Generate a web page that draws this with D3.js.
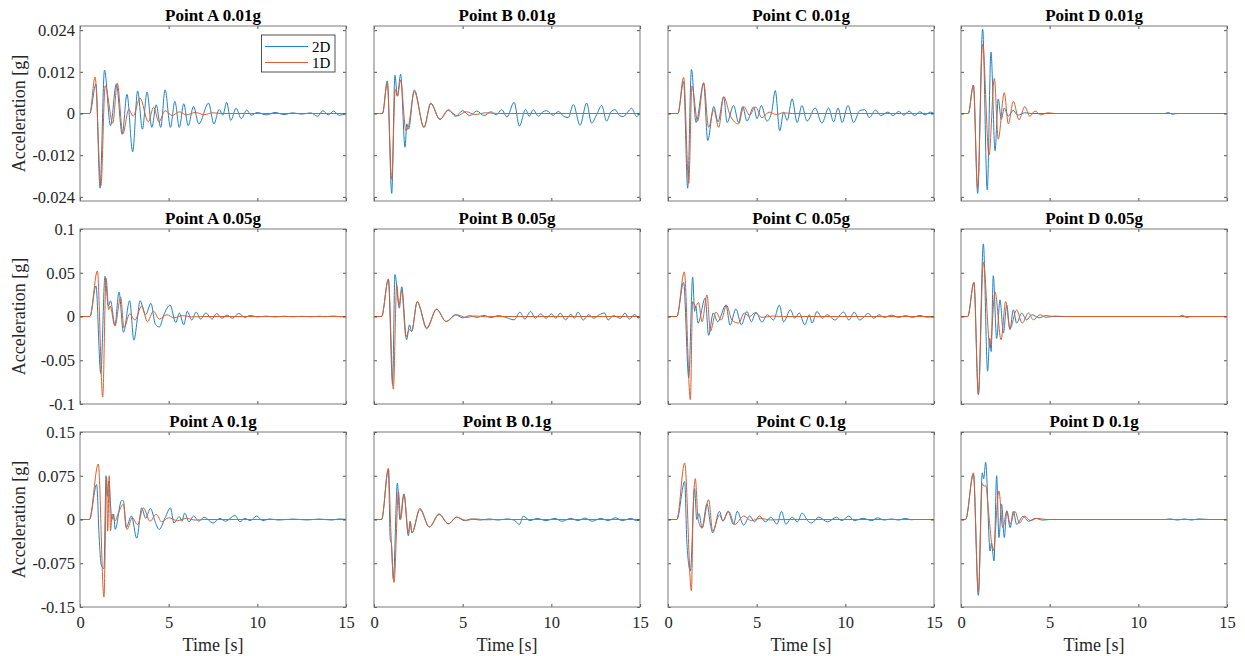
<!DOCTYPE html>
<html><head><meta charset="utf-8">
<script src="https://cdn.jsdelivr.net/npm/d3@7"></script>
<style>body{margin:0;background:#fff}svg{display:block}</style>
</head><body><svg id="c" width="1245" height="656"></svg>
<script>
// ---------- data (time [s], acceleration [g]) ----------
const A001_2D=[[0,0],[0.55,0],[0.9,0.0085],[1.13,-0.0215],[1.38,0.0125],[1.72,-0.0035],[2.05,0.0085],[2.38,-0.006],[2.65,0.0055],[2.97,-0.011],[3.25,0.0065],[3.52,-0.0045],[3.78,0.0062],[4.05,-0.004],[4.3,0.0025],[4.55,-0.004],[4.8,0.0068],[5.1,-0.004],[5.35,0.0035],[5.6,-0.004],[5.85,0.0028],[6.1,-0.0035],[6.4,0.002],[6.7,-0.003],[7.25,0.003],[7.55,-0.003],[7.85,0.0012],[8.05,-0.0005],[8.27,0.0032],[8.5,-0.002],[8.8,0.0015],[9.1,-0.0015],[9.4,0.001],[9.65,-0.0005],[10,0.0003],[10.5,-0.0004],[11,0.0003],[11.5,-0.0003],[12,0.0002],[12.5,-0.0002],[13,0.0002],[13.4,-0.0008],[13.7,0.0008],[14,-0.0004],[14.3,0.0007],[14.6,-0.0005],[15,0]];
const A001_1D=[[0,0],[0.55,0],[0.85,0.0105],[1.18,-0.0208],[1.42,0.008],[1.85,-0.0028],[2.1,0.0088],[2.42,-0.0058],[2.75,0.0012],[3.0,-0.0008],[3.38,0.0045],[3.85,-0.0024],[4.15,0.0018],[4.45,-0.0024],[4.8,0.0008],[5.2,-0.0006],[5.6,0.0005],[6.0,-0.0004],[6.5,0.0003],[7.0,-0.0003],[7.5,0.0002],[8,0],[15,0]];
const B001_2D=[[0,0],[0.48,0],[0.75,0.0094],[1.0,-0.023],[1.18,0.011],[1.32,0.005],[1.5,0.0113],[1.75,-0.0097],[1.85,-0.003],[1.95,-0.0045],[2.27,0.0068],[2.82,-0.004],[3.2,0.003],[3.72,-0.0017],[4.19,0.0011],[4.6,-0.0008],[5.0,0.0008],[5.4,-0.0006],[5.8,0.0007],[6.2,-0.0006],[6.6,0.0005],[6.9,-0.0004],[7.2,0.0011],[7.5,-0.001],[7.9,0.0032],[8.2,-0.0036],[8.55,0.0012],[8.75,-0.0008],[8.98,0.0011],[9.27,-0.0008],[9.5,0.0004],[9.74,0.0008],[10.1,-0.0005],[10.4,0.0006],[10.7,-0.0008],[10.95,-0.0012],[11.24,0.0026],[11.62,-0.0034],[11.99,0.003],[12.27,-0.0028],[12.55,-0.0004],[12.84,0.0023],[13.12,-0.0022],[13.35,0.0004],[13.59,0.0011],[13.85,-0.0006],[14.06,-0.0009],[14.3,0.0004],[14.53,0.0015],[14.81,-0.0009],[15,0.0002]];
const B001_1D=[[0,0],[0.48,0],[0.75,0.0087],[1.0,-0.019],[1.2,0.007],[1.32,0.005],[1.5,0.0096],[1.8,-0.005],[1.95,-0.0035],[2.27,0.0063],[2.82,-0.004],[3.2,0.0028],[3.72,-0.0017],[4.19,0.0009],[4.7,-0.0007],[5.2,0.0005],[5.7,-0.0003],[6.3,0.0002],[7,0],[15,0]];
const C001_2D=[[0,0],[0.56,0],[0.88,0.0092],[1.11,-0.0215],[1.32,0.0127],[1.58,-0.0026],[2.01,0.0087],[2.24,-0.0078],[2.58,0.002],[2.82,-0.0024],[3.14,0.0047],[3.33,-0.0026],[3.7,0.0023],[3.98,-0.0026],[4.21,0.002],[4.45,-0.0022],[4.83,0.0019],[5.02,-0.0015],[5.26,0.0023],[5.58,-0.0022],[5.85,0.0005],[6.05,0.0066],[6.3,-0.005],[6.52,0.0004],[6.72,-0.002],[7.0,0.0042],[7.28,-0.0026],[7.55,0.0023],[7.84,-0.0022],[8.3,0.0016],[8.68,-0.0028],[9.06,0.0016],[9.34,-0.0024],[9.59,0.0016],[9.82,-0.0026],[10.15,0.0023],[10.47,-0.0026],[10.8,0.0008],[11.1,0.0011],[11.35,-0.0012],[11.7,0.001],[12.0,-0.0006],[12.4,0.0004],[12.7,-0.0006],[13.0,0.0006],[13.3,-0.0005],[13.6,0.0007],[13.9,-0.0006],[14.2,0.0005],[14.5,-0.0004],[14.8,0.0004],[15,0]];
const C001_1D=[[0,0],[0.56,0],[0.88,0.0104],[1.17,-0.0201],[1.35,0.0079],[1.67,-0.0022],[2.01,0.0089],[2.29,-0.004],[2.58,0.0011],[2.86,-0.004],[3.14,0.0049],[3.5,-0.0005],[3.98,-0.003],[4.27,0.002],[4.6,-0.0005],[4.93,0.0019],[5.3,-0.0012],[5.7,0.0004],[6.1,-0.0003],[6.5,0.0002],[7,0],[15,0]];
const D001_2D=[[0,0],[0.41,0],[0.7,0.0082],[0.94,-0.023],[1.22,0.0243],[1.48,-0.022],[1.69,0.0177],[1.92,-0.0107],[2.1,0.0042],[2.27,-0.0017],[2.44,0.0016],[2.66,-0.0008],[2.95,0.0009],[3.2,-0.0005],[3.6,0.0002],[4,0],[11.5,0],[11.7,0.0003],[11.9,-0.0002],[12.2,0],[15,0]];
const D001_1D=[[0,0],[0.41,0],[0.7,0.0082],[0.94,-0.0215],[1.22,0.02],[1.58,-0.012],[1.88,0.0101],[2.1,-0.0074],[2.44,0.006],[2.67,-0.003],[2.95,0.0035],[3.27,-0.0018],[3.6,0.002],[3.88,-0.0008],[4.17,0.0007],[4.5,-0.0004],[4.9,0.0002],[5.3,0],[15,0]];

const A005_2D=[[0,0],[0.56,0],[0.9,0.035],[1.17,-0.065],[1.41,0.046],[1.6,0.012],[1.72,0.018],[1.97,-0.0096],[2.2,0.028],[2.45,-0.018],[2.8,0.018],[3.04,-0.027],[3.25,0.0],[3.38,0.018],[3.7,0.002],[4.0,0.015],[4.25,-0.009],[4.47,-0.012],[4.75,0.003],[5.08,0.013],[5.4,-0.007],[5.6,0.004],[5.85,-0.0096],[6.05,0.006],[6.3,-0.004],[6.55,0.005],[6.8,-0.003],[7.1,0.004],[7.45,-0.003],[7.7,0.0035],[8.0,-0.002],[8.3,0.0015],[8.6,-0.002],[8.95,0.0035],[9.3,-0.001],[9.6,0.0012],[10,-0.0005],[10.5,0.0004],[11,-0.0005],[11.5,0.0003],[12,-0.0003],[12.5,0.0002],[13,-0.0003],[13.5,0.0003],[13.8,-0.0002],[14.3,0.0005],[14.7,-0.0003],[15,0]];
const A005_1D=[[0,0],[0.56,0],[0.98,0.052],[1.28,-0.092],[1.47,0.044],[1.62,0.008],[1.7,0.012],[1.97,-0.011],[2.29,0.022],[2.48,-0.013],[2.8,0.003],[3.1,-0.004],[3.48,0.012],[3.8,-0.006],[4.14,0.006],[4.47,-0.003],[4.9,0.002],[5.3,-0.0015],[5.8,0.001],[6.3,-0.0005],[7,0],[15,0]];
const B005_2D=[[0,0],[0.43,0],[0.81,0.042],[1.05,-0.078],[1.18,0.048],[1.43,0.0095],[1.56,0.034],[1.84,-0.0265],[2.0,-0.0095],[2.12,-0.017],[2.44,0.017],[2.6,0.01],[2.97,-0.013],[3.53,0.0083],[4.06,-0.0057],[4.6,0.002],[5.0,-0.0015],[5.4,0.001],[5.8,-0.001],[6.2,0.0012],[6.6,-0.0012],[7.0,0.001],[7.4,-0.0008],[7.9,-0.0038],[8.23,0.005],[8.5,-0.003],[8.83,0.0057],[9.1,-0.002],[9.4,0.003],[9.7,-0.002],[10.0,0.003],[10.25,-0.002],[10.5,0.0038],[10.8,-0.0038],[11.1,0.0025],[11.3,-0.002],[11.5,0.005],[11.8,-0.004],[12.1,0.002],[12.4,-0.002],[12.7,0.002],[13.0,0.004],[13.2,-0.004],[13.5,0.001],[13.9,-0.002],[14.15,0.004],[14.4,-0.003],[14.7,0.0025],[14.9,-0.002],[15,0]];
const B005_1D=[[0,0],[0.43,0],[0.81,0.043],[1.09,-0.083],[1.28,0.036],[1.41,0.013],[1.56,0.03],[1.8,-0.023],[2.0,-0.015],[2.12,-0.017],[2.44,0.017],[2.97,-0.014],[3.53,0.0083],[4.06,-0.0057],[4.66,0.002],[5.2,-0.0012],[5.7,0.0006],[6.3,-0.0003],[7,0],[15,0]];
const C005_2D=[[0,0],[0.5,0],[0.88,0.039],[1.17,-0.07],[1.39,0.045],[1.5,0.006],[1.57,0.012],[1.69,-0.0076],[2.1,0.021],[2.29,-0.0216],[2.55,0.004],[2.8,-0.006],[3.27,0.013],[3.5,-0.01],[3.83,0.0087],[4.14,-0.0095],[4.45,0.0057],[4.7,-0.006],[4.96,0.005],[5.3,-0.0065],[5.6,0.002],[5.95,-0.004],[6.28,0.013],[6.52,-0.006],[6.9,0.0076],[7.15,-0.002],[7.4,0.004],[7.71,-0.0095],[7.97,0.002],[8.12,-0.0075],[8.4,0.0057],[8.7,-0.002],[9.0,0.002],[9.4,-0.004],[9.9,0.005],[10.2,-0.004],[10.5,0.005],[10.8,-0.004],[11.3,0.0035],[11.6,-0.002],[11.9,0.002],[12.2,-0.001],[12.6,0.0015],[13,-0.001],[13.4,0.001],[13.8,-0.001],[14.2,0.0012],[14.6,-0.0008],[15,0]];
const C005_1D=[[0,0],[0.5,0],[0.92,0.051],[1.26,-0.095],[1.39,0.017],[1.55,0.012],[1.72,0.016],[1.92,-0.006],[2.2,0.0246],[2.39,-0.017],[2.7,0.005],[3.0,-0.004],[3.3,0.013],[3.6,-0.004],[3.98,-0.0075],[4.3,0.004],[4.6,0.0],[4.9,0.004],[5.3,-0.001],[5.9,0.0005],[6.5,0],[15,0]];
const D005_2D=[[0,0],[0.38,0],[0.73,0.039],[0.98,-0.089],[1.26,0.083],[1.5,-0.0625],[1.62,-0.025],[1.7,-0.04],[1.82,0.0466],[2.01,-0.025],[2.2,0.019],[2.39,-0.019],[2.58,0.013],[2.76,-0.015],[2.95,0.0076],[3.14,-0.0076],[3.42,0.0038],[3.7,-0.0038],[4.0,0.002],[4.4,-0.0015],[4.8,0.001],[5.2,0],[12.3,0],[12.5,0.0015],[12.7,-0.001],[13,0],[15,0]];
const D005_1D=[[0,0],[0.38,0],[0.73,0.039],[0.98,-0.089],[1.26,0.062],[1.64,-0.036],[1.92,0.028],[2.26,-0.0265],[2.52,0.017],[2.76,-0.014],[3.14,0.0076],[3.45,-0.0076],[3.8,0.004],[4.08,-0.0038],[4.45,0.002],[4.8,-0.001],[5.3,0.0005],[5.8,0],[15,0]];

const A01_2D=[[0,0],[0.53,0],[0.94,0.06],[1.08,-0.03],[1.2,-0.078],[1.35,-0.084],[1.47,0.075],[1.55,0.04],[1.62,0.066],[1.8,0.0],[1.9,0.009],[1.98,-0.017],[2.35,0.033],[2.45,0.032],[2.6,-0.014],[2.9,0.006],[3.2,-0.032],[3.48,0.02],[3.7,0.002],[3.97,0.019],[4.25,-0.005],[4.47,-0.017],[4.8,0.003],[5.1,0.02],[5.3,-0.006],[5.6,0.005],[5.75,-0.003],[5.9,0.011],[6.15,-0.004],[6.4,0.006],[6.7,-0.003],[7.0,0.004],[7.5,-0.006],[7.9,0.002],[8.2,-0.003],[8.74,0.007],[9.02,-0.004],[9.3,0.002],[9.6,-0.002],[9.96,0.006],[10.3,-0.002],[10.7,0.001],[11.2,-0.001],[12,0.0008],[12.8,-0.0008],[13.5,0.0008],[14.2,-0.001],[14.6,0.001],[15,0]];
const A01_1D=[[0,0],[0.53,0],[1.03,0.095],[1.35,-0.133],[1.5,0.072],[1.56,-0.02],[1.65,0.075],[1.72,-0.019],[1.82,0.009],[1.97,-0.003],[2.15,0.01],[2.44,0.026],[2.65,-0.017],[2.95,0.003],[3.25,-0.009],[3.57,0.02],[3.95,-0.003],[4.3,0.009],[4.6,-0.004],[5.0,0.003],[5.5,-0.002],[6,0.002],[6.5,-0.001],[7,0],[15,0]];
const B01_2D=[[0,0],[0.43,0],[0.81,0.085],[0.92,-0.035],[0.98,-0.04],[1.09,-0.102],[1.32,0.0625],[1.46,0.0],[1.69,0.044],[1.94,-0.028],[2.04,-0.003],[2.14,-0.023],[2.59,0.017],[3.12,-0.013],[3.67,0.0085],[4.19,-0.0074],[4.66,0.004],[5.1,-0.002],[5.5,0.001],[6,-0.001],[6.5,0.001],[7,-0.001],[7.5,0.001],[7.9,-0.001],[8.2,-0.0085],[8.42,0.0057],[8.8,-0.002],[9.2,0.002],[9.7,-0.002],[10.2,0.002],[10.6,-0.003],[11.1,0.002],[11.5,-0.002],[11.9,0.0025],[12.3,-0.003],[12.8,0.002],[13.2,-0.002],[13.6,0.003],[14.0,-0.002],[14.5,0.002],[14.8,-0.002],[15,0]];
const B01_1D=[[0,0],[0.43,0],[0.81,0.088],[0.95,-0.02],[1.13,-0.108],[1.38,0.048],[1.5,0.0],[1.69,0.043],[1.94,-0.023],[2.04,-0.004],[2.14,-0.023],[2.59,0.019],[3.12,-0.013],[3.67,0.0097],[4.19,-0.0074],[4.66,0.004],[5.2,-0.0015],[5.7,0.001],[6.3,-0.0005],[7,0],[15,0]];
const C01_2D=[[0,0],[0.5,0],[0.94,0.065],[1.07,-0.043],[1.26,-0.088],[1.5,0.053],[1.62,0.0],[1.75,0.01],[1.92,-0.014],[2.2,0.027],[2.4,-0.01],[2.52,-0.023],[2.9,0.014],[3.1,-0.003],[3.38,0.014],[3.7,-0.0085],[3.9,0.014],[4.27,-0.0097],[4.6,0.006],[4.88,-0.004],[5.15,0.006],[5.5,-0.004],[5.8,0.004],[6.15,-0.008],[6.4,0.014],[6.65,-0.008],[7.0,0.004],[7.3,-0.004],[7.56,0.011],[7.9,-0.003],[8.1,-0.006],[8.5,0.004],[9.0,-0.004],[9.5,0.004],[9.8,-0.002],[10.2,0.006],[10.5,-0.002],[11,0.002],[11.5,-0.002],[11.8,0.003],[12.2,-0.001],[12.6,0.001],[13.0,-0.001],[13.4,0.002],[13.7,-0.0005],[13.9,0],[15,0]];
const C01_1D=[[0,0],[0.5,0],[0.94,0.097],[1.32,-0.122],[1.42,0.02],[1.54,0.07],[1.7,0.0],[1.92,-0.015],[2.29,0.034],[2.52,-0.02],[2.9,0.008],[3.1,-0.002],[3.42,0.014],[3.76,-0.0085],[4.27,0.006],[4.7,-0.002],[5.2,0.002],[5.8,-0.0008],[6.5,0],[15,0]];
const D01_2D=[[0,0],[0.26,0],[0.7,0.077],[0.98,-0.13],[1.2,0.08],[1.28,0.07],[1.39,0.098],[1.64,-0.054],[1.72,-0.04],[1.86,-0.071],[2.01,0.075],[2.14,-0.031],[2.29,0.026],[2.44,-0.031],[2.58,0.015],[2.77,-0.014],[2.95,0.014],[3.14,-0.0085],[3.5,0.0057],[3.8,-0.003],[4.2,0.002],[4.6,-0.001],[5.0,0],[11.5,0],[11.8,0.001],[12.2,-0.001],[12.6,0.001],[13,-0.001],[13.4,0.001],[14,0],[15,0]];
const D01_1D=[[0,0],[0.26,0],[0.7,0.08],[0.98,-0.125],[1.2,0.061],[1.3,0.057],[1.4,0.058],[1.55,0.014],[1.82,-0.054],[2.14,0.049],[2.35,-0.014],[2.59,0.014],[2.77,-0.008],[3.04,0.014],[3.3,-0.006],[3.6,0.006],[3.9,-0.002],[4.3,0.002],[4.8,0],[15,0]];

const pointNames=["A","B","C","D"];
const levels=["0.01g","0.05g","0.1g"];
const data2D=[[A001_2D,B001_2D,C001_2D,D001_2D],[A005_2D,B005_2D,C005_2D,D005_2D],[A01_2D,B01_2D,C01_2D,D01_2D]];
const data1D=[[A001_1D,B001_1D,C001_1D,D001_1D],[A005_1D,B005_1D,C005_1D,D005_1D],[A01_1D,B01_1D,C01_1D,D01_1D]];
const yLimits=[0.0252,0.1,0.15];
const yTicks=[[-0.024,-0.012,0,0.012,0.024],[-0.1,-0.05,0,0.05,0.1],[-0.15,-0.075,0,0.075,0.15]];
const yTickLabels=[["-0.024","-0.012","0","0.012","0.024"],["-0.1","-0.05","0","0.05","0.1"],["-0.15","-0.075","0","0.075","0.15"]];
const xTicks=[0,5,10,15];
const xTickLabels=["0","5","10","15"];
const seriesNames=["2D","1D"];

// ---------- layout ----------
const colors=["#1f82cc","#dc5e2c"];
const lefts=[80,374,668,961], tops=[26,229,432];
const W=266, H=175;
const FONT="'Liberation Serif','Times New Roman',serif";
const svg=d3.select("#c");
const x=d3.scaleLinear().domain([0,15]).range([0,W]);

svg.append("defs").append("clipPath").attr("id","clip").append("rect").attr("width",W).attr("height",H);

for(let r=0;r<3;r++){
  const y=d3.scaleLinear().domain([-yLimits[r],yLimits[r]]).range([H,0]);
  for(let c=0;c<4;c++){
    const g=svg.append("g").attr("transform",`translate(${lefts[c]},${tops[r]})`);
    const line=d3.line().x(d=>x(d[0])).y(d=>y(d[1])).curve(d3.curveMonotoneX);
    const pg=g.append("g").attr("clip-path","url(#clip)");
    [data2D[r][c],data1D[r][c]].forEach((s,i)=>{
      pg.append("path").datum(s).attr("d",line).attr("fill","none")
        .attr("stroke",colors[i]).attr("stroke-width",1).attr("stroke-linejoin","round");
    });
    // axes (inward ticks on all sides)
    const bottomLbl = r===2, leftLbl = c===0;
    const ax=[
      [d3.axisBottom(x).tickValues(xTicks).tickFormat((d,i)=>bottomLbl?xTickLabels[i]:""),`translate(0,${H})`],
      [d3.axisTop(x).tickValues(xTicks).tickFormat(""),`translate(0,0)`],
      [d3.axisLeft(y).tickValues(yTicks[r]).tickFormat((d,i)=>leftLbl?yTickLabels[r][i]:""),`translate(0,0)`],
      [d3.axisRight(y).tickValues(yTicks[r]).tickFormat(""),`translate(${W},0)`]
    ];
    ax.forEach(([a,t],k)=>{
      a.tickSizeInner(-3).tickSizeOuter(0).tickPadding(k===0?9:5);
      const ag=g.append("g").attr("transform",t).call(a);
      ag.select(".domain").remove();
      ag.selectAll("line").attr("stroke","#262626").attr("stroke-width",0.8);
      ag.selectAll("text").attr("font-family",FONT).attr("font-size",16.5).attr("fill","#262626");
    });
    g.append("rect").attr("width",W).attr("height",H).attr("fill","none").attr("stroke","#7a7a7a").attr("stroke-width",1);
    g.append("text").attr("x",W/2).attr("y",-5).attr("text-anchor","middle")
      .attr("font-family",FONT).attr("font-weight","bold").attr("font-size",17).attr("fill","#000")
      .text(`Point ${pointNames[c]} ${levels[r]}`);
    if(leftLbl){
      svg.append("text").attr("transform",`translate(25,${tops[r]+H/2}) rotate(-90)`).attr("text-anchor","middle")
        .attr("font-family",FONT).attr("font-size",18).attr("fill","#262626").text("Acceleration [g]");
    }
    if(bottomLbl){
      svg.append("text").attr("x",lefts[c]+W/2).attr("y",651).attr("text-anchor","middle")
        .attr("font-family",FONT).attr("font-size",18).attr("fill","#262626").text("Time [s]");
    }
    if(r===0&&c===0){
      const lg=g.append("g").attr("transform","translate(181.5,9)");
      lg.append("rect").attr("width",73.5).attr("height",37).attr("fill","#fff").attr("stroke","#262626").attr("stroke-width",0.8);
      seriesNames.forEach((nm,i)=>{
        const yy=11.5+i*16;
        lg.append("line").attr("x1",3.5).attr("x2",46.5).attr("y1",yy).attr("y2",yy).attr("stroke",colors[i]).attr("stroke-width",1);
        lg.append("text").attr("x",50.5).attr("y",yy).attr("dy","0.35em").attr("font-family",FONT).attr("font-size",15).attr("fill","#000").text(nm);
      });
    }
  }
}
</script></body></html>
